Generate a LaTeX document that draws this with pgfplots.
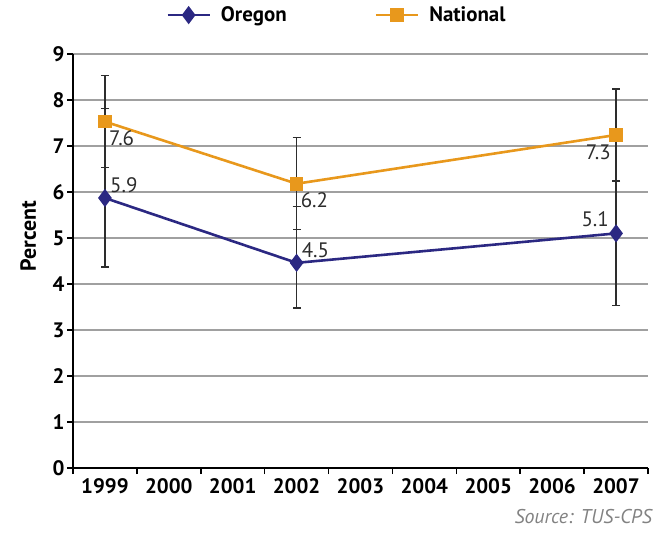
\documentclass[border=0pt]{standalone}
\usepackage{pgfplots}
\pgfplotsset{compat=1.18}
\usepackage{fontspec}
\setmainfont{PT Sans}
\definecolor{oregon}{RGB}{43,40,130}
\definecolor{national}{RGB}{232,152,28}
\definecolor{gridgray}{RGB}{160,160,160}
\definecolor{txtgray}{RGB}{45,45,45}
\definecolor{srcgray}{RGB}{130,130,130}
\begin{document}
\begin{tikzpicture}
\useasboundingbox (-73bp,-65bp) rectangle (589bp,468bp);
\begin{axis}[
  at={(0,0)}, anchor=south west,
  scale only axis, width=575bp, height=414bp,
  xmin=1998.5, xmax=2007.5, ymin=0, ymax=9,
  axis lines=left, axis line style={-, line width=2bp, black},
  xtick={1999,...,2007},
  minor xtick={1998.5,1999.5,...,2007.5},
  ytick={0,...,9},
  major x tick style={draw=none},
  minor x tick style={line width=1.5bp, black},
  minor tick length=6bp,
  major tick length=6bp,
  y tick style={line width=1.5bp, black},
  tick align=outside,
  xtick pos=bottom, ytick pos=left,
  xticklabel style={font=\fontsize{21}{24}\selectfont\bfseries, yshift=-1bp},
  yticklabel style={font=\fontsize{21}{24}\selectfont\bfseries, xshift=1bp},
  /pgf/number format/assume math mode=true,
  xticklabel={\pgfmathprintnumber[1000 sep={},fixed,precision=0]{\tick}},
  ymajorgrids, grid style={gridgray, line width=1.4bp},
  ylabel={Percent},
  ylabel style={at={(axis description cs:-0.078,0.56)}, anchor=center, font=\fontsize{22}{26}\selectfont\bfseries},
  legend style={draw=none, fill=none, legend columns=2, at={(axis description cs:0.459,1.094)}, anchor=center,
    font=\fontsize{21}{24}\selectfont\bfseries,
    /tikz/every odd column/.append style={column sep=8bp},
    /tikz/every even column/.append style={column sep=86bp}},
  legend image code/.code={\draw[#1] (0bp,0bp) -- (42bp,0bp); \draw[#1] plot coordinates {(21bp,0bp)};},
  error bars/y dir=both, error bars/y explicit,
  error bars/error bar style={txtgray, line width=1.2bp},
  error bars/error mark options={rotate=90, txtgray, mark size=4bp, line width=1.2bp},
  clip=false,
]
\addplot[oregon, line width=2.6bp, mark=diamond*, mark size=7bp, mark options={solid}]
  coordinates {(1999,5.87) += (0,1.94) -= (0,1.50)
               (2002,4.46) += (0,1.22) -= (0,0.98)
               (2007,5.10) += (0,1.14) -= (0,1.56)};
\addlegendentry{Oregon}
\addplot[national, line width=2.6bp, mark=square*, mark size=5.5bp, mark options={solid}]
  coordinates {(1999,7.53) +- (0,1.0)
               (2002,6.18) +- (0,1.0)
               (2007,7.24) +- (0,1.0)};
\addlegendentry{National}
% data labels
\addplot[draw=none, forget plot, nodes near coords, point meta=explicit symbolic,
  nodes near coords style={anchor=north west, font=\fontsize{21}{24}\selectfont, text=txtgray, inner sep=0bp, xshift=4bp, yshift=-9bp}]
  coordinates {(1999,7.53) [7.6] (2002,6.18) [6.2]};
\addplot[draw=none, forget plot, nodes near coords, point meta=explicit symbolic,
  nodes near coords style={anchor=south west, font=\fontsize{21}{24}\selectfont, text=txtgray, inner sep=0bp, xshift=5bp, yshift=5bp}]
  coordinates {(1999,5.87) [5.9] (2002,4.46) [4.5]};
\addplot[draw=none, forget plot, nodes near coords, point meta=explicit symbolic,
  nodes near coords style={anchor=north east, font=\fontsize{21}{24}\selectfont, text=txtgray, inner sep=0bp, xshift=-5bp, yshift=-10bp}]
  coordinates {(2007,7.24) [7.3]};
\addplot[draw=none, forget plot, nodes near coords, point meta=explicit symbolic,
  nodes near coords style={anchor=south east, font=\fontsize{21}{24}\selectfont, text=txtgray, inner sep=0bp, xshift=-7bp, yshift=6bp}]
  coordinates {(2007,5.10) [5.1]};
\node[anchor=base east, font=\fontsize{20}{24}\selectfont\itshape, text=srcgray, inner sep=0bp] at (axis description cs:1.007,-0.135) {Source: TUS-CPS};
\end{axis}
\end{tikzpicture}
\end{document}
